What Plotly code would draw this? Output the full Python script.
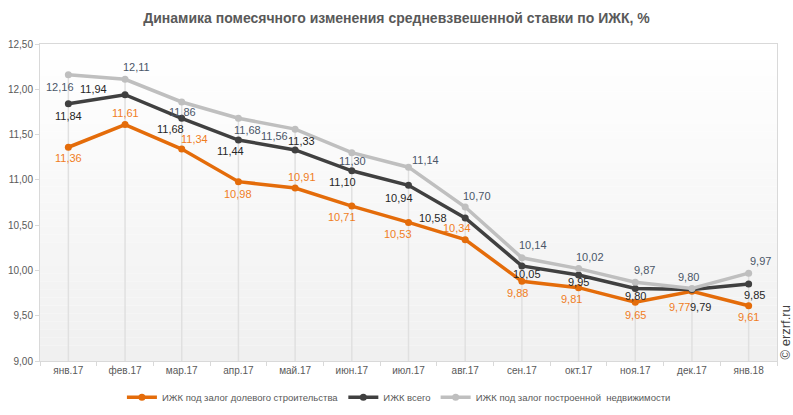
import plotly.graph_objects as go

months = ["янв.17", "фев.17", "мар.17", "апр.17", "май.17", "июн.17", "июл.17",
          "авг.17", "сен.17", "окт.17", "ноя.17", "дек.17", "янв.18"]
dolevoe = [11.36, 11.61, 11.34, 10.98, 10.91, 10.71, 10.53, 10.34, 9.88, 9.81, 9.65, 9.77, 9.61]
vsego = [11.84, 11.94, 11.68, 11.44, 11.33, 11.10, 10.94, 10.58, 10.05, 9.95, 9.80, 9.79, 9.85]
postr = [12.16, 12.11, 11.86, 11.68, 11.56, 11.30, 11.14, 10.70, 10.14, 10.02, 9.87, 9.80, 9.97]
names = ["ИЖК под залог долевого строительства", "ИЖК всего",
         "ИЖК под залог построенной  недвижимости"]
y_ticks = [9.0, 9.5, 10.0, 10.5, 11.0, 11.5, 12.0, 12.5]
base = 9.0

# label offsets (px) per point: (dx, dy)
off_d = [(0, -11), (0, 12), (13, 10), (0, -12), (7, 11), (-10, -11), (-11, -12),
         (-8, 12), (-4, -12), (-7, -11), (0, -13), (-12, -16), (0, -11)]
off_v = [(0, -12), (-32, 6), (-11, -11), (-8, -11), (6, 9), (-9, -11), (-10, -13),
         (-32, 0), (5, -8), (0, -7), (0, -7), (9, -18), (6, -11)]
off_p = [(-8, -12), (11, 12), (1, -10), (9, -12), (-21, -7), (1, -8), (17, 7),
         (12, 11), (11, 13), (11, 12), (9, 12), (-3, 12), (12, 12)]

c_d, c_v, c_p = "#e46c0a", "#404040", "#bfbfbf"
t_d, t_v, t_p = "#f07d1e", "#262626", "#4a5668"

fig = go.Figure()

# drop lines from the top series down to the axis
fig.add_trace(go.Scatter(
    x=months, y=postr, mode="markers", marker=dict(size=1, opacity=0),
    error_y=dict(type="data", symmetric=False, array=[0] * len(postr),
                 arrayminus=[v - base for v in postr], width=0,
                 color="#e0e0e0", thickness=1.5),
    showlegend=False, hoverinfo="skip"))

for vals, name, col in [(dolevoe, names[0], c_d), (vsego, names[1], c_v), (postr, names[2], c_p)]:
    fig.add_trace(go.Scatter(x=months, y=vals, name=name, mode="lines+markers",
                             line=dict(color=col, width=3.5),
                             marker=dict(color=col, size=7, symbol="circle")))

anns = []
for vals, offs, tc in [(dolevoe, off_d, t_d), (vsego, off_v, t_v), (postr, off_p, t_p)]:
    for m, v, (dx, dy) in zip(months, vals, offs):
        anns.append(dict(x=m, y=v, text=f"{v:.2f}".replace(".", ","), showarrow=False,
                         xshift=dx, yshift=dy, font=dict(family="Liberation Sans, Arial", size=11, color=tc)))
anns.append(dict(x=1.0109, y=0.09, xref="paper", yref="paper", text="© erzrf.ru", showarrow=False,
                 textangle=-90, font=dict(family="Liberation Sans, Arial", size=13, color="#404040"),
                 xanchor="center", yanchor="middle"))

# background gradient
shapes = []
n = 40
for i in range(n):
    t = i / (n - 1)
    g = int(round(255 - (255 - 240) * (1 - t)))
    shapes.append(dict(type="rect", xref="paper", yref="paper", x0=0, x1=1,
                       y0=i / n, y1=(i + 1) / n, fillcolor=f"rgb({g},{g},{g})",
                       line=dict(width=0), layer="below"))

fig.update_layout(
    width=793, height=415,
    margin=dict(l=40, r=16, t=44, b=54, autoexpand=False),
    paper_bgcolor="white", plot_bgcolor="rgba(0,0,0,0)",
    title=dict(text="<b>Динамика помесячного изменения средневзвешенной ставки по ИЖК, %</b>",
               x=0.5, xanchor="center", y=0.957, yanchor="middle",
               font=dict(family="Liberation Sans, Arial, sans-serif", size=14, color="#595959")),
    xaxis=dict(type="category", categoryorder="array", categoryarray=months,
               showgrid=False, tickson="boundaries", ticks="outside", ticklen=4,
               tickcolor="#d9d9d9", showline=True, linecolor="#d9d9d9", linewidth=1, mirror=True,
               tickfont=dict(family="Liberation Sans, Arial", size=10, color="#595959"),
               range=[-0.5, 12.5], fixedrange=True),
    yaxis=dict(range=[9.0, 12.5], tickvals=y_ticks,
               ticktext=[f"{v:.2f}".replace(".", ",") for v in y_ticks],
               showgrid=False, zeroline=False, ticks="outside", ticklen=4, tickcolor="#d9d9d9",
               showline=True, linecolor="#d9d9d9", linewidth=1, mirror=True,
               tickfont=dict(family="Liberation Sans, Arial", size=10, color="#595959")),
    legend=dict(orientation="h", x=0.487, xanchor="center", y=-0.114, yanchor="middle",
                font=dict(family="Liberation Sans, Arial", size=9.5, color="#595959"),
                itemwidth=30, bgcolor="rgba(0,0,0,0)"),
    annotations=anns, shapes=shapes, showlegend=True,
)

fig.write_html("out.html",
               config={"displayModeBar": False},
               post_script=("document.body.style.margin='0';"
                            "document.body.style.overflow='hidden';"
                            "Plotly.relayout('{plot_id}', {width: 793, height: 415});"))
